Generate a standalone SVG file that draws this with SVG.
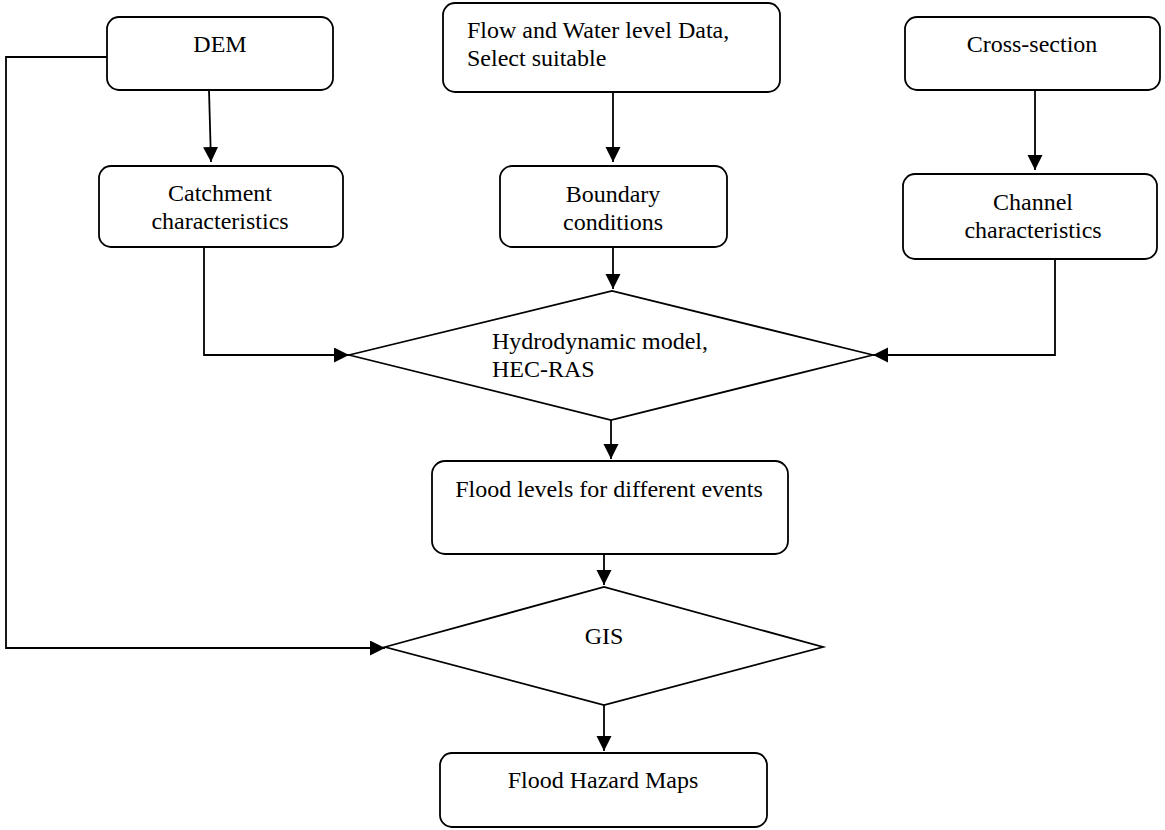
<svg xmlns="http://www.w3.org/2000/svg" width="1165" height="830" viewBox="0 0 1165 830">
<style>
.box{fill:#fff;stroke:#000;stroke-width:1.8}
.dia{fill:#fff;stroke:#000;stroke-width:1.8}
.t{font-family:"Liberation Serif","Times New Roman",serif;font-size:24px;fill:#000}
.c{text-anchor:middle}
.ln{fill:none;stroke:#000;stroke-width:1.8}
</style>
<defs>
<marker id="ah" markerUnits="userSpaceOnUse" markerWidth="16" markerHeight="16" refX="15" refY="7.5" orient="auto">
<path d="M0,0 L15,7.5 L0,15 Z" fill="#000"/>
</marker>
</defs>
<rect width="1165" height="830" fill="#fff"/>
<g id="connectors">
<path class="ln" d="M107,57 H6 V648 H385" marker-end="url(#ah)"/>
<path class="ln" d="M209,90 L211,162" marker-end="url(#ah)"/>
<path class="ln" d="M613,92 V162" marker-end="url(#ah)"/>
<path class="ln" d="M1035,90 V170" marker-end="url(#ah)"/>
<path class="ln" d="M204,247 V355 H349" marker-end="url(#ah)"/>
<path class="ln" d="M613,247 V289" marker-end="url(#ah)"/>
<path class="ln" d="M1055,259 V355 H873" marker-end="url(#ah)"/>
<path class="ln" d="M611,420 V459" marker-end="url(#ah)"/>
<path class="ln" d="M604,554 V585" marker-end="url(#ah)"/>
<path class="ln" d="M604,705 V751" marker-end="url(#ah)"/>
</g>
<g id="dem">
<rect class="box" x="107" y="17" width="226" height="73" rx="12"/>
<text class="t c" x="220" y="52">DEM</text>
</g>
<g id="flowdata">
<rect class="box" x="443" y="3" width="337" height="89" rx="12"/>
<text class="t" x="467" y="38">Flow and Water level Data,</text>
<text class="t" x="467" y="66">Select suitable</text>
</g>
<g id="crosssection">
<rect class="box" x="905" y="17" width="255" height="73" rx="12"/>
<text class="t c" x="1032" y="52">Cross-section</text>
</g>
<g id="catchment">
<rect class="box" x="99" y="166" width="244" height="81" rx="12"/>
<text class="t c" x="220" y="201">Catchment</text>
<text class="t c" x="220" y="229">characteristics</text>
</g>
<g id="boundary">
<rect class="box" x="500" y="166" width="227" height="81" rx="12"/>
<text class="t c" x="613" y="202">Boundary</text>
<text class="t c" x="613" y="230">conditions</text>
</g>
<g id="channel">
<rect class="box" x="903" y="174" width="254" height="85" rx="12"/>
<text class="t c" x="1033" y="210">Channel</text>
<text class="t c" x="1033" y="238">characteristics</text>
</g>
<g id="hydro">
<polygon class="dia" points="349,355 612,291 873,355 611,420"/>
<text class="t" x="492" y="349">Hydrodynamic model,</text>
<text class="t" x="492" y="377">HEC-RAS</text>
</g>
<g id="floodlevels">
<rect class="box" x="432" y="461" width="356" height="93" rx="13"/>
<text class="t c" x="609" y="497">Flood levels for different events</text>
</g>
<g id="gis">
<polygon class="dia" points="385,647 604,587 823,647 604,705"/>
<text class="t c" x="604" y="644">GIS</text>
</g>
<g id="hazardmaps">
<rect class="box" x="440" y="753" width="327" height="74" rx="12"/>
<text class="t c" x="603" y="788">Flood Hazard Maps</text>
</g>
</svg>
